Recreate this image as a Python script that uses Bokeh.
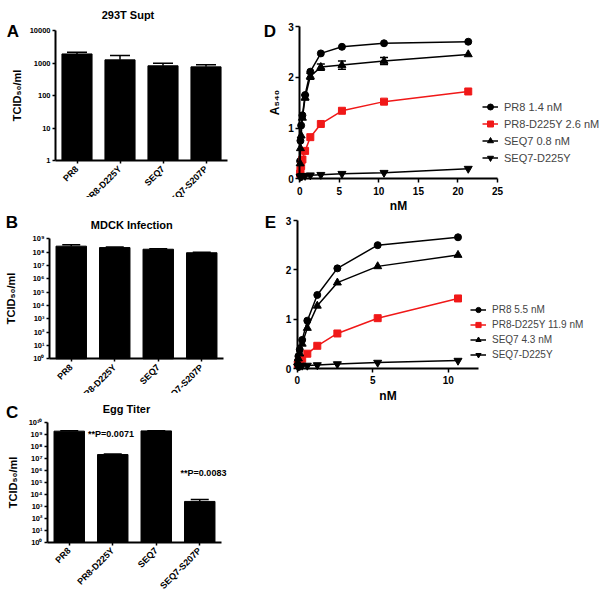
import math
from bokeh.plotting import figure
from bokeh.models import (Range1d, FixedTicker, Label, Whisker, TeeHead,
                          ColumnDataSource, Legend, LegendItem, Spacer)
from bokeh.layouts import row, column
from bokeh.embed import file_html
from bokeh.resources import INLINE

FONT = "Liberation Sans"
RED = "#f01818"

# ---------------- data ----------------
strains = ["PR8", "PR8-D225Y", "SEQ7", "SEQ7-S207P"]

supt_293t = [1900, 1250, 820, 760]
supt_293t_top = [2150, 1700, 980, 880]

mdck = [2.8e8, 2.2e8, 1.65e8, 9.0e7]
mdck_top = [3.6e8, 2.45e8, 1.8e8, 1.0e8]

egg = [2.0e9, 2.2e7, 2.1e9, 2.6e3]
egg_top = [2.15e9, 2.4e7, 2.2e9, 3.8e3]
egg_pvalues = ["**P=0.0071", "**P=0.0083"]

a_ticks = [1, 10, 100, 1000, 10000]
b_ticks = [10 ** k for k in range(10)]
c_ticks = [10 ** k for k in range(11)]

d_conc = [0.04, 0.08, 0.17, 0.33, 0.67, 1.33, 2.66, 5.33, 10.65, 21.3]
d_pr8 = [0.35, 0.75, 1.05, 1.25, 1.65, 2.11, 2.47, 2.60, 2.67, 2.70]
d_pr8_d225y = [0.10, 0.17, 0.25, 0.38, 0.55, 0.82, 1.08, 1.34, 1.52, 1.72]
d_seq7 = [0.30, 0.60, 0.85, 1.20, 1.60, 2.02, 2.20, 2.24, 2.32, 2.45]
d_seq7_err = [0, 0, 0, 0, 0.05, 0.06, 0.06, 0.08, 0.07, 0]
d_seq7_d225y = [0.04, 0.05, 0.05, 0.06, 0.06, 0.07, 0.08, 0.10, 0.12, 0.20]
d_names = ["PR8 1.4 nM", "PR8-D225Y 2.6 nM", "SEQ7 0.8 nM", "SEQ7-D225Y"]

e_conc = [0.04, 0.08, 0.17, 0.33, 0.67, 1.33, 2.66, 5.33, 10.65]
e_pr8 = [0.15, 0.25, 0.38, 0.58, 0.97, 1.49, 2.03, 2.50, 2.66]
e_pr8_d225y = [0.08, 0.10, 0.15, 0.20, 0.30, 0.46, 0.71, 1.02, 1.42]
e_seq7 = [0.12, 0.20, 0.30, 0.50, 0.82, 1.27, 1.74, 2.07, 2.30]
e_seq7_d225y = [0.04, 0.05, 0.05, 0.06, 0.06, 0.07, 0.09, 0.12, 0.16]
e_names = ["PR8 5.5 nM", "PR8-D225Y 11.9 nM", "SEQ7 4.3 nM", "SEQ7-D225Y"]

SUP = str.maketrans("0123456789", "⁰¹²³⁴⁵⁶⁷⁸⁹")


def mapper(d0, p0, d1, p1, log=False):
    if log:
        d0, d1 = math.log10(d0), math.log10(d1)
    s = (p1 - p0) / (d1 - d0)

    def f(px):
        v = d0 + (px - p0) / s
        return 10 ** v if log else v
    return f


def panel(origin, size, xmap, ymap, ylog, xbounds, ybounds):
    """A figure whose frame fills its canvas; the data area is placed by the maps
    (page pixel <-> data) and the axes are pinned at the data area's edges."""
    ox, oy = origin
    w, h = size
    fx = mapper(*xmap)
    fy = mapper(*ymap, log=ylog)
    p = figure(width=w, height=h, x_range=Range1d(fx(ox), fx(ox + w)),
               y_range=Range1d(fy(oy + h), fy(oy)),
               y_axis_type="log" if ylog else "linear",
               output_backend="svg", toolbar_location=None, title=None,
               min_border=0, min_border_left=0, min_border_right=0,
               min_border_top=0, min_border_bottom=0)
    p.outline_line_color = None
    p.grid.visible = False
    p.background_fill_color = "white"
    p.border_fill_color = "white"
    p.xaxis.fixed_location = ybounds[0]
    p.yaxis.fixed_location = xbounds[0]
    p.xaxis.bounds = xbounds
    p.yaxis.bounds = ybounds
    for ax in (p.xaxis[0], p.yaxis[0]):
        ax.axis_line_width = 2
        ax.axis_line_color = "black"
        ax.major_tick_line_width = 1.5
        ax.major_tick_line_color = "black"
        ax.major_tick_out = 4
        ax.major_tick_in = 0
        ax.minor_tick_line_color = None
        ax.major_label_text_font = FONT
        ax.major_label_text_font_style = "bold"
        ax.major_label_text_color = "black"
        ax.major_label_standoff = 2
        ax.axis_label_text_font = FONT
        ax.axis_label_text_font_style = "bold"
        ax.axis_label_text_color = "black"

    def at(px, py):
        return fx(px), fy(py)
    return p, at


def text_label(p, xy, text, size, align="center", baseline="alphabetic"):
    p.add_layout(Label(x=xy[0], y=xy[1], text=text, text_font=FONT,
                       text_font_style="bold", text_font_size=size,
                       text_color="black", text_align=align,
                       text_baseline=baseline))


def bar_panel(origin, size, xmap, ymap, values, tops, ticks, tick_labels,
              title, title_pos, letter, letter_pos, ylab_standoff, cap):
    n = len(strains)
    p, at = panel(origin, size, xmap, ymap, True, (0, n), (ticks[0], ticks[-1]))
    xs = [i + 0.5 for i in range(n)]
    src = ColumnDataSource(dict(x=xs, top=values, err=tops))
    p.vbar(x="x", top="top", bottom=ticks[0], width=0.7, source=src,
           fill_color="black", line_color="black")
    p.add_layout(Whisker(base="x", lower="top", upper="err", source=src,
                         dimension="height", line_color="black", line_width=1.5,
                         upper_head=TeeHead(size=cap, line_color="black", line_width=1.5),
                         lower_head=None))
    p.yaxis.ticker = FixedTicker(ticks=ticks)
    p.yaxis.major_label_overrides = dict(zip(ticks, tick_labels))
    p.yaxis.major_label_text_font_size = "7.5px"
    p.yaxis.major_tick_out = 3
    p.yaxis.axis_label = "TCID₅₀/ml"
    p.yaxis.axis_label_text_font_size = "11px"
    p.yaxis.axis_label_standoff = ylab_standoff
    p.xaxis.ticker = FixedTicker(ticks=xs)
    p.xaxis.major_label_overrides = dict(zip(xs, strains))
    p.xaxis.major_label_orientation = math.pi / 4
    p.xaxis.major_label_text_font_size = "9px"
    p.xaxis.major_tick_out = 3
    p.xaxis.major_label_standoff = 4
    text_label(p, at(*title_pos), title, "11px")
    text_label(p, at(*letter_pos), letter, "17px")
    return p, at


# left column (page pixels: x maps / y maps)
pA, atA = bar_panel((0, 0), (262, 197), (0, 55, 4, 227), (1, 160, 1e4, 30),
                    supt_293t, supt_293t_top, a_ticks, [str(t) for t in a_ticks],
                    "293T Supt", (127.5, 14.5), "A", (12.5, 31), 4, 20)
pB, atB = bar_panel((0, 197), (262, 196), (0, 49, 4, 223), (1, 358.3, 1e9, 238.3),
                    mdck, mdck_top, b_ticks,
                    ["10" + str(k).translate(SUP) for k in range(10)],
                    "MDCK Infection", (131.3, 224), "B", (11.3, 222), 12, 18)
pC, atC = bar_panel((0, 393), (262, 204), (0, 47, 4, 221), (1, 541.7, 1e10, 422.3),
                    egg, egg_top, c_ticks,
                    ["10" + str(k).translate(SUP) for k in range(11)],
                    "Egg Titer", (126, 408), "C", (11.7, 412), 7, 18)
text_label(pC, atC(110.5, 433.5), egg_pvalues[0], "9px")
text_label(pC, atC(203, 472.5), egg_pvalues[1], "9px")


def line_panel(origin, size, xmap, ymap, xbounds, xticks, conc, series, names, err,
               letter, letter_pos, legend_box, legend_font, item_h, ylabel,
               tick_standoff, xlab_standoff):
    p, at = panel(origin, size, xmap, ymap, False, xbounds, (0, 3))
    p.xaxis.ticker = FixedTicker(ticks=xticks)
    p.yaxis.ticker = FixedTicker(ticks=[0, 1, 2, 3])
    for ax in (p.xaxis[0], p.yaxis[0]):
        ax.major_label_text_font_size = "10px"
        ax.axis_label_text_font_size = "12px"
    p.xaxis.major_label_standoff = tick_standoff
    p.xaxis.axis_label_standoff = xlab_standoff
    p.yaxis.axis_label_standoff = 3
    p.xaxis.axis_label = "nM"
    if ylabel:
        p.yaxis.axis_label = ylabel
    markers = ["circle", "square", "triangle", "inverted_triangle"]
    colors = ["black", RED, "black", "black"]
    sizes = [7, 7, 8, 8]
    items = []
    for ys, name, m, c, sz in zip(series, names, markers, colors, sizes):
        lr = p.line(conc, ys, line_color=c, line_width=1.5)
        sr = p.scatter(conc, ys, marker=m, size=sz, fill_color=c, line_color=c)
        items.append(LegendItem(label=name, renderers=[lr, sr]))
    if err is not None:
        ys = series[2]
        keep = [i for i, e in enumerate(err) if e > 0]
        wsrc = ColumnDataSource(dict(x=[conc[i] for i in keep],
                                     lo=[ys[i] - err[i] for i in keep],
                                     hi=[ys[i] + err[i] for i in keep]))
        p.add_layout(Whisker(base="x", lower="lo", upper="hi", source=wsrc,
                             dimension="height", line_color="black", line_width=1.5,
                             upper_head=TeeHead(size=8, line_color="black", line_width=1.5),
                             lower_head=TeeHead(size=8, line_color="black", line_width=1.5)))
    ox, oy = origin
    left, bottom = legend_box
    legend = Legend(items=items, location=(left - ox, oy + size[1] - bottom),
                    border_line_color=None, background_fill_alpha=0,
                    padding=0, margin=0, spacing=2,
                    glyph_width=16, glyph_height=item_h, label_height=item_h,
                    label_standoff=6, label_text_font=FONT,
                    label_text_font_size=legend_font)
    p.add_layout(legend)
    text_label(p, at(*letter_pos), letter, "17px")
    return p


pD = line_panel((262, 0), (340, 211), (0, 299.3, 25, 497), (0, 178.3, 3, 26),
                (0, 25), [0, 5, 10, 15, 20, 25], d_conc,
                [d_pr8, d_pr8_d225y, d_seq7, d_seq7_d225y], d_names, d_seq7_err,
                "D", (269.5, 31), (482, 165.2), "11px", 15, "A₅₄₀", 4, 1)
pE = line_panel((262, 211), (340, 194), (0, 296.7, 10, 447.7), (0, 368, 3, 220),
                (0, 12), [0, 5, 10], e_conc,
                [e_pr8, e_pr8_d225y, e_seq7, e_seq7_d225y], e_names, None,
                "E", (270, 222), (470, 360.8), "10px", 13, None, 3, 2)

layout = row(column(pA, pB, pC), column(pD, pE, Spacer(width=340, height=192)))

open("out.html", "w").write(file_html(layout, INLINE))
